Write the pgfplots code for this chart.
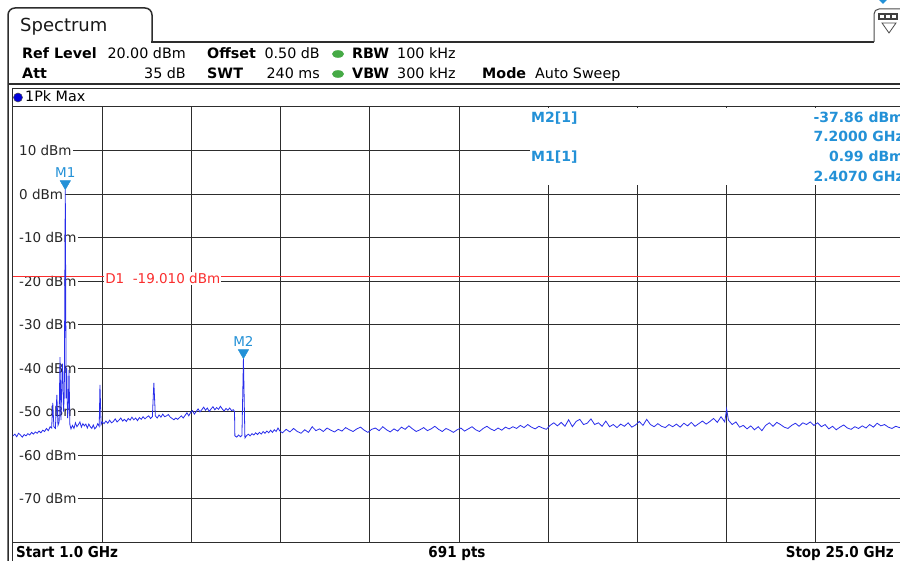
\documentclass[border=0pt]{standalone}
\usepackage{pgfplots}
\pgfplotsset{compat=1.18}
\usepackage{pgfplotstable}
\usepackage{fontspec}
\setmainfont{DejaVu Sans}
\newfontfamily\condf{DejaVu Sans Condensed}
\definecolor{mblue}{RGB}{35,145,215}
\definecolor{trc}{RGB}{40,45,235}
\definecolor{dred}{RGB}{250,45,45}
\definecolor{gridc}{RGB}{45,45,45}
\definecolor{dgreen}{RGB}{70,170,70}
\newcommand\hf{\fontsize{14.3}{16}\selectfont}
\newcommand\lf{\fontsize{13.5}{15}\selectfont}
\newcommand\mf{\fontsize{14}{16}\selectfont\bfseries}
\newcommand\ff{\fontsize{15}{17}\selectfont\condf\bfseries}
\tikzset{lbl/.style={anchor=west, fill=white, inner xsep=0pt, inner ysep=1pt, font=\lf, text=black!85},
  img/.style={x=1pt, y=-1pt, yshift=561pt}}
\pgfplotstableread{
f p
1.00 -55.6
1.05 -55.2
1.10 -55.8
1.15 -55.0
1.20 -55.4
1.25 -55.9
1.30 -55.3
1.35 -55.6
1.40 -55.1
1.45 -55.4
1.50 -54.8
1.55 -55.2
1.60 -54.7
1.65 -55.0
1.70 -54.5
1.75 -54.9
1.80 -54.3
1.85 -54.6
1.90 -53.9
1.95 -54.4
2.00 -53.5
2.04 -53.8
2.07 -48.0
2.10 -53.5
2.14 -53.9
2.18 -46.2
2.21 -53.2
2.24 -52.5
2.265 -37.5
2.29 -52.0
2.31 -44.5
2.33 -39.0
2.36 -50.0
2.38 -46.0
2.407 0.99
2.43 -47.0
2.445 -40.0
2.47 -51.5
2.49 -48.0
2.507 -40.5
2.53 -53.0
2.56 -54.0
2.60 -53.2
2.64 -53.9
2.68 -52.6
2.72 -53.5
2.76 -53.0
2.80 -52.4
2.84 -53.6
2.88 -52.8
2.92 -53.3
2.96 -52.9
3.00 -53.8
3.04 -52.9
3.08 -53.5
3.12 -53.9
3.16 -53.1
3.20 -54.0
3.24 -53.6
3.28 -52.8
3.32 -53.4
3.34 -43.9
3.37 -53.0
3.40 -52.4
3.45 -52.8
3.50 -52.2
3.55 -52.7
3.60 -52.0
3.65 -52.6
3.70 -52.3
3.75 -51.7
3.80 -52.4
3.85 -52.0
3.90 -51.5
3.95 -52.2
4.00 -51.8
4.05 -52.3
4.10 -51.6
4.15 -52.0
4.20 -51.3
4.25 -51.9
4.30 -51.5
4.35 -52.1
4.40 -51.4
4.45 -51.8
4.50 -51.2
4.55 -51.7
4.60 -51.3
4.65 -51.0
4.70 -51.6
4.75 -51.2
4.79 -43.4
4.83 -51.0
4.88 -51.5
4.93 -50.8
4.98 -51.3
5.03 -50.6
5.08 -51.2
5.13 -51.0
5.18 -50.7
5.23 -51.3
5.28 -51.6
5.33 -51.9
5.38 -51.5
5.43 -51.8
5.48 -51.4
5.53 -51.0
5.58 -51.5
5.63 -50.9
5.68 -50.3
5.73 -51.0
5.78 -50.2
5.83 -49.8
5.88 -50.6
5.93 -50.0
5.98 -49.4
6.03 -50.1
6.08 -49.6
6.13 -49.0
6.18 -49.7
6.23 -49.2
6.28 -50.0
6.33 -49.4
6.38 -48.9
6.43 -49.6
6.48 -49.1
6.53 -49.5
6.58 -48.8
6.63 -49.4
6.68 -49.9
6.73 -49.3
6.78 -49.7
6.83 -49.2
6.88 -49.8
6.93 -49.6
6.96 -50.0
6.97 -55.6
7.02 -55.9
7.07 -55.4
7.12 -55.8
7.16 -55.5
7.20 -37.86
7.24 -56.1
7.28 -55.6
7.33 -55.2
7.38 -55.6
7.43 -55.1
7.48 -55.4
7.53 -54.9
7.58 -55.3
7.63 -54.8
7.68 -55.2
7.73 -54.6
7.78 -55.0
7.83 -54.5
7.88 -54.9
7.93 -54.3
7.98 -54.8
8.03 -54.2
8.08 -54.6
8.13 -53.8
8.18 -54.5
8.25 -54.9
8.35 -54.1
8.45 -54.7
8.55 -53.9
8.65 -54.6
8.75 -55.0
8.85 -54.2
8.95 -54.8
9.05 -53.5
9.15 -54.4
9.25 -54.0
9.35 -54.6
9.45 -53.8
9.55 -54.3
9.65 -54.7
9.75 -54.1
9.85 -54.5
9.95 -53.7
10.05 -54.2
10.15 -54.6
10.25 -54.0
10.35 -53.6
10.45 -54.3
10.55 -54.8
10.65 -54.1
10.75 -53.8
10.85 -54.4
10.95 -53.5
11.05 -54.2
11.15 -54.7
11.25 -54.0
11.35 -54.5
11.45 -53.6
11.55 -54.1
11.65 -53.3
11.75 -54.0
11.85 -54.6
11.95 -54.2
12.05 -53.7
12.15 -54.4
12.25 -54.0
12.35 -53.4
12.45 -54.1
12.55 -54.6
12.65 -53.9
12.75 -54.3
12.85 -54.8
12.95 -54.2
13.05 -53.8
13.15 -54.5
13.25 -54.0
13.35 -53.5
13.45 -54.2
13.55 -54.6
13.65 -53.9
13.75 -53.4
13.85 -54.0
13.95 -54.4
14.05 -53.8
14.15 -54.3
14.25 -53.6
14.35 -54.0
14.45 -53.5
14.55 -53.9
14.65 -53.2
14.75 -53.7
14.85 -53.0
14.95 -53.6
15.05 -54.0
15.15 -53.4
15.25 -53.8
15.35 -54.1
15.45 -53.2
15.55 -52.6
15.65 -53.3
15.75 -52.5
15.85 -53.4
15.95 -51.9
16.05 -53.5
16.15 -52.3
16.25 -51.8
16.35 -53.0
16.45 -52.7
16.55 -51.7
16.65 -53.0
16.75 -52.6
16.85 -53.4
16.95 -52.2
17.05 -53.5
17.15 -53.0
17.25 -53.7
17.35 -52.9
17.45 -53.4
17.55 -52.6
17.65 -53.6
17.75 -53.1
17.85 -52.3
17.95 -53.2
18.05 -51.8
18.15 -53.0
18.25 -53.5
18.35 -52.8
18.45 -53.4
18.55 -53.7
18.65 -53.0
18.75 -53.5
18.85 -52.9
18.95 -53.6
19.05 -52.7
19.15 -53.3
19.25 -52.5
19.35 -53.4
19.45 -52.8
19.55 -52.2
19.65 -52.9
19.75 -52.3
19.85 -51.6
19.95 -52.5
20.05 -51.2
20.15 -52.4
20.20 -49.4
20.25 -52.0
20.35 -53.0
20.45 -52.4
20.55 -53.6
20.65 -53.2
20.75 -54.0
20.85 -53.3
20.95 -54.2
21.05 -53.5
21.15 -54.4
21.25 -53.2
21.35 -52.6
21.45 -53.4
21.55 -52.5
21.65 -53.0
21.75 -53.6
21.85 -53.9
21.95 -53.2
22.05 -52.7
22.15 -53.4
22.25 -52.6
22.35 -53.0
22.45 -52.4
22.55 -53.2
22.65 -52.6
22.75 -53.5
22.85 -53.0
22.95 -54.0
23.05 -53.4
23.15 -54.2
23.25 -53.6
23.35 -53.1
23.45 -53.8
23.55 -54.1
23.65 -53.5
23.75 -53.9
23.85 -53.3
23.95 -53.8
24.05 -53.0
24.15 -53.6
24.25 -52.7
24.35 -53.3
24.45 -53.0
24.55 -53.6
24.65 -53.9
24.75 -53.4
24.85 -53.7
24.95 -53.2
25.00 -53.5
}\tracetab
\begin{document}
\begin{tikzpicture}
\useasboundingbox (0,0) rectangle (900pt,561pt);
\fill[white] (0,0) rectangle (900pt,561pt);
\begin{scope}[img]
% tab and frame
\draw[gridc, line width=1.5pt, rounded corners=7pt] (8,561) -- (8,8) -- (152,8) -- (152,43);
\draw[gridc, line width=1.8pt] (151,42) -- (874,42);
\draw[black!70, line width=1pt, rounded corners=5pt] (874,42) -- (874,9) -- (910,9);
\fill[black!75] (878,13) rectangle (898,20);
\fill[white] (880,15) rectangle (884,18);
\fill[white] (885.8,15) rectangle (889.8,18);
\fill[white] (891.6,15) rectangle (895.6,18);
\draw[black!70, line width=0.8pt] (882,23) -- (896,23) -- (889,33) -- cycle;
\fill[mblue] (879,0) -- (887,0) -- (883,4) -- cycle;
\draw[gridc, line width=1.8pt] (8,84) -- (900,84);
\draw[gridc, line width=0.8pt] (12.5,88) -- (900,88);
\draw[gridc, line width=1pt] (12.5,88) -- (12.5,561);
% header texts
\node[anchor=base west, font=\fontsize{18}{20}\selectfont, text=black!90, inner sep=0pt] at (20,32) {Spectrum};
\node[anchor=base west, font=\hf\bfseries, inner sep=0pt] at (22,59) {Ref Level};
\node[anchor=base east, font=\hf, inner sep=0pt] at (186,59) {20.00 dBm};
\node[anchor=base west, font=\hf\bfseries, inner sep=0pt] at (207,59) {Offset};
\node[anchor=base east, font=\hf, inner sep=0pt] at (320,59) {0.50 dB};
\fill[dgreen] (338,54) ellipse (6 and 3.8);
\node[anchor=base west, font=\hf\bfseries, inner sep=0pt] at (352,59) {RBW};
\node[anchor=base west, font=\hf, inner sep=0pt] at (397,59) {100 kHz};
\node[anchor=base west, font=\hf\bfseries, inner sep=0pt] at (22,79) {Att};
\node[anchor=base east, font=\hf, inner sep=0pt] at (186,79) {35 dB};
\node[anchor=base west, font=\hf\bfseries, inner sep=0pt] at (207,79) {SWT};
\node[anchor=base east, font=\hf, inner sep=0pt] at (320,79) {240 ms};
\fill[dgreen] (338,74) ellipse (6 and 3.8);
\node[anchor=base west, font=\hf\bfseries, inner sep=0pt] at (352,79) {VBW};
\node[anchor=base west, font=\hf, inner sep=0pt] at (397,79) {300 kHz};
\node[anchor=base west, font=\hf\bfseries, inner sep=0pt] at (482,79) {Mode};
\node[anchor=base west, font=\hf, inner sep=0pt] at (535,79) {Auto Sweep};
\fill[blue!85!black] (18,97.5) circle (4.5);
\draw[black!70, line width=0.5pt] (18,97.5) circle (4.5);
\node[anchor=base west, font=\hf, inner sep=0pt] at (25,102) {1Pk Max};
\end{scope}
\begin{axis}[at={(13pt,19pt)}, anchor=south west, scale only axis,
  width=892pt, height=435pt, xmin=1, xmax=25, ymin=-80, ymax=20,
  xtick={3.4,5.8,8.2,10.6,13,15.4,17.8,20.2,22.6},
  ytick={-70,-60,-50,-40,-30,-20,-10,0,10},
  grid=major, major grid style={gridc, line width=0.9pt},
  xticklabels={}, yticklabels={},
  xticklabel style={opacity=0}, yticklabel style={opacity=0},
  tick style={draw=none},
  axis line style={draw=none}]
\node[lbl] at (axis cs:1,10) {\hspace*{6pt}10 dBm\hspace*{1.5pt}};
\node[lbl] at (axis cs:1,0) {\hspace*{6pt}0 dBm\hspace*{1.5pt}};
\node[lbl] at (axis cs:1,-10) {\hspace*{6pt}-10 dBm\hspace*{1.5pt}};
\node[lbl] at (axis cs:1,-20) {\hspace*{6pt}-20 dBm\hspace*{1.5pt}};
\node[lbl] at (axis cs:1,-30) {\hspace*{6pt}-30 dBm\hspace*{1.5pt}};
\node[lbl] at (axis cs:1,-40) {\hspace*{6pt}-40 dBm\hspace*{1.5pt}};
\node[lbl] at (axis cs:1,-50) {\hspace*{6pt}-50 dBm\hspace*{1.5pt}};
\node[lbl] at (axis cs:1,-60) {\hspace*{6pt}-60 dBm\hspace*{1.5pt}};
\node[lbl] at (axis cs:1,-70) {\hspace*{6pt}-70 dBm\hspace*{1.5pt}};
\addplot[dred, line width=0.8pt] coordinates {(1,-19.01) (25,-19.01)};
\node[anchor=west, fill=white, inner sep=1pt, text=dred, font=\lf, yshift=-2pt] at (axis cs:3.45,-19.01) {D1\ \ -19.010 dBm};
\addplot[trc, line width=0.8pt] table[x=f, y=p] {\tracetab};
\addplot[only marks, mark=triangle*, mark size=6pt, mark options={yshift=6pt, rotate=180, fill=mblue, draw=mblue}] coordinates {(2.407,0.99) (7.2,-37.86)};
\node[text=mblue, font=\lf, yshift=17pt] at (axis cs:2.407,0.99) {M1};
\node[text=mblue, font=\lf, yshift=17pt] at (axis cs:7.2,-37.86) {M2};
\end{axis}
\begin{scope}[img]
\draw[gridc, line width=1pt] (12,107) -- (900,107);
\draw[gridc, line width=1.5pt] (12,542.5) -- (900,542.5);
% marker info box
\fill[white] (530,108) rectangle (905,185);
\node[anchor=base west, font=\mf, text=mblue, inner sep=0pt] at (531,123) {M2[1]};
\node[anchor=base east, font=\mf, text=mblue, inner sep=0pt] at (904,123) {-37.86 dBm};
\node[anchor=base east, font=\mf, text=mblue, inner sep=0pt] at (904,142) {7.2000 GHz};
\node[anchor=base west, font=\mf, text=mblue, inner sep=0pt] at (531,162) {M1[1]};
\node[anchor=base east, font=\mf, text=mblue, inner sep=0pt] at (904,162) {0.99 dBm};
\node[anchor=base east, font=\mf, text=mblue, inner sep=0pt] at (904,182) {2.4070 GHz};
% footer
\node[anchor=base west, font=\ff, inner sep=0pt] at (16,558) {Start 1.0 GHz};
\node[anchor=base, font=\ff, inner sep=0pt] at (457,558) {691 pts};
\node[anchor=base east, font=\ff, inner sep=0pt] at (894,558) {Stop 25.0 GHz};
\end{scope}
\end{tikzpicture}
\end{document}
